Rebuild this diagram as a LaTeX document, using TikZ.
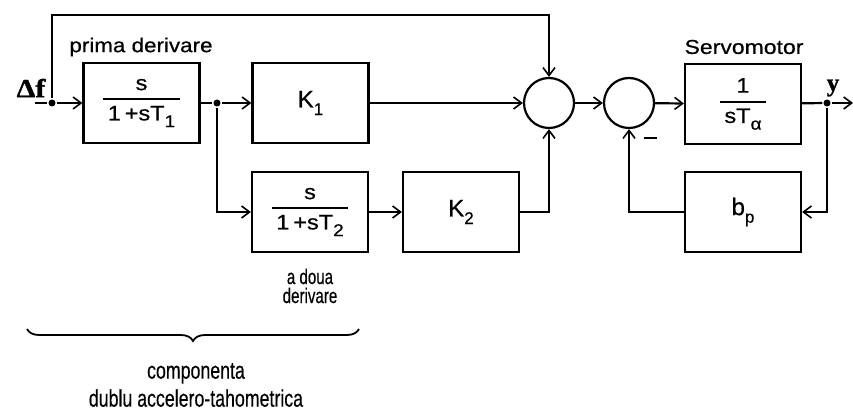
\documentclass[tikz,border=0pt]{standalone}
\usepackage{amsmath}
\usepackage{fontspec}
\setmainfont[FakeBold=0.5]{Liberation Sans}
\newfontfamily\serfb[FakeBold=1]{Liberation Serif}
\usetikzlibrary{arrows.meta,decorations.pathreplacing}
\newcommand\sbs[1]{\raisebox{-0.6ex}{\fontsize{17}{17}\selectfont #1}}
\newcommand\frc[2]{\scalebox{1.12}[1]{$\genfrac{}{}{2pt}{0}{\hbox{#1}}{\hbox{\kern4pt#2\kern4pt}}$}}
\begin{document}
\begin{tikzpicture}[x=1pt,y=-1pt,line width=2.2pt,
  blk/.style={draw,line width=2.2pt,minimum width=116pt,minimum height=80pt,inner sep=0pt,font=\fontsize{21}{23}\selectfont},
  sumc/.style={draw,circle,line width=2.2pt,minimum size=50pt,inner sep=0pt},
  jdot/.style={circle,fill,inner sep=0pt,minimum size=7pt},
  arr/.style={-{Straight Barb[length=8pt,width=12pt,line width=1.6pt]}},
  lbl/.style={inner sep=0pt,font=\fontsize{20}{22}\selectfont}]
\useasboundingbox (0,0) rectangle (853,411);
% blocks
\node[blk] (b1) at (141.5,103) {\frc{s}{1\,+sT\sbs{1}}};
\node[blk] (k1) at (310.5,103) {\fontsize{24}{24}\selectfont K\sbs{1}};
\node[blk] (b3) at (310,212) {\frc{s}{1\,+sT\sbs{2}}};
\node[blk] (k2) at (461,212) {\fontsize{24}{24}\selectfont K\sbs{2}};
\node[blk] (sv) at (743,104) {\frc{1}{sT\sbs{α}}};
\node[blk] (bp) at (743,212) {\fontsize{24}{24}\selectfont b\sbs{p}};
% sums
\node[sumc] (s1) at (549,103) {};
\node[sumc] (s2) at (629,103) {};
% junctions
\node[jdot] (d0) at (52,103) {};
\node[jdot] (d1) at (217,103) {};
\node[jdot] (d2) at (827,103) {};
\coordinate (in) at (35,103);
\coordinate (out) at (853,103);
\coordinate (t0) at (52,15);
\coordinate (t1) at (549,15);
% connectors
\draw (in) -- (d0);
\draw[arr] (d0) -- (b1);
\draw[arr] (d0) -- (t0) -- (t1) -- (s1);
\draw (b1) -- (d1);
\draw[arr] (d1) -- (k1);
\draw[arr] (d1) |- (b3);
\draw[arr] (b3) -- (k2);
\draw[arr] (k1) -- (s1);
\draw[arr] (k2) -| (s1);
\draw[arr] (s1) -- (s2);
\draw[arr] (s2) -- (sv);
\draw (sv) -- (d2);
\draw[arr] (d2) -- (out);
\draw[arr] (d2) |- (bp);
\draw[arr] (bp) -| (s2);
% labels
\node[lbl] (lf) at (31,88) {\serfb\bfseries\fontsize{26}{26}\selectfont\scalebox{1.15}[1]{Δf}};
\node[lbl] (ly) at (833,88) {\serfb\bfseries\fontsize{25}{25}\selectfont y};
\node[lbl] (lm) at (650,138) {\rule{13pt}{2.4pt}};
\node[lbl] (lp) at (141,47) {\scalebox{1.12}[1]{prima derivare}};
\node[lbl] (ls) at (744,47) {\scalebox{1.15}[1]{Servomotor}};
\node[lbl,align=center,font=\fontsize{21}{21}\selectfont] (la) at (310,286) {\scalebox{0.72}[1]{a doua}\\[-2pt]\scalebox{0.72}[1]{derivare}};
\draw[line width=1.8pt,decorate,decoration={brace,mirror,amplitude=12pt}] (27,329) -- (359,329);
\node[lbl,align=center,font=\fontsize{24}{26}\selectfont] (lc) at (196,385) {\scalebox{0.74}[1]{componenta}\\[2pt]\scalebox{0.74}[1]{dublu accelero-tahometrica}};
\end{tikzpicture}
\end{document}
